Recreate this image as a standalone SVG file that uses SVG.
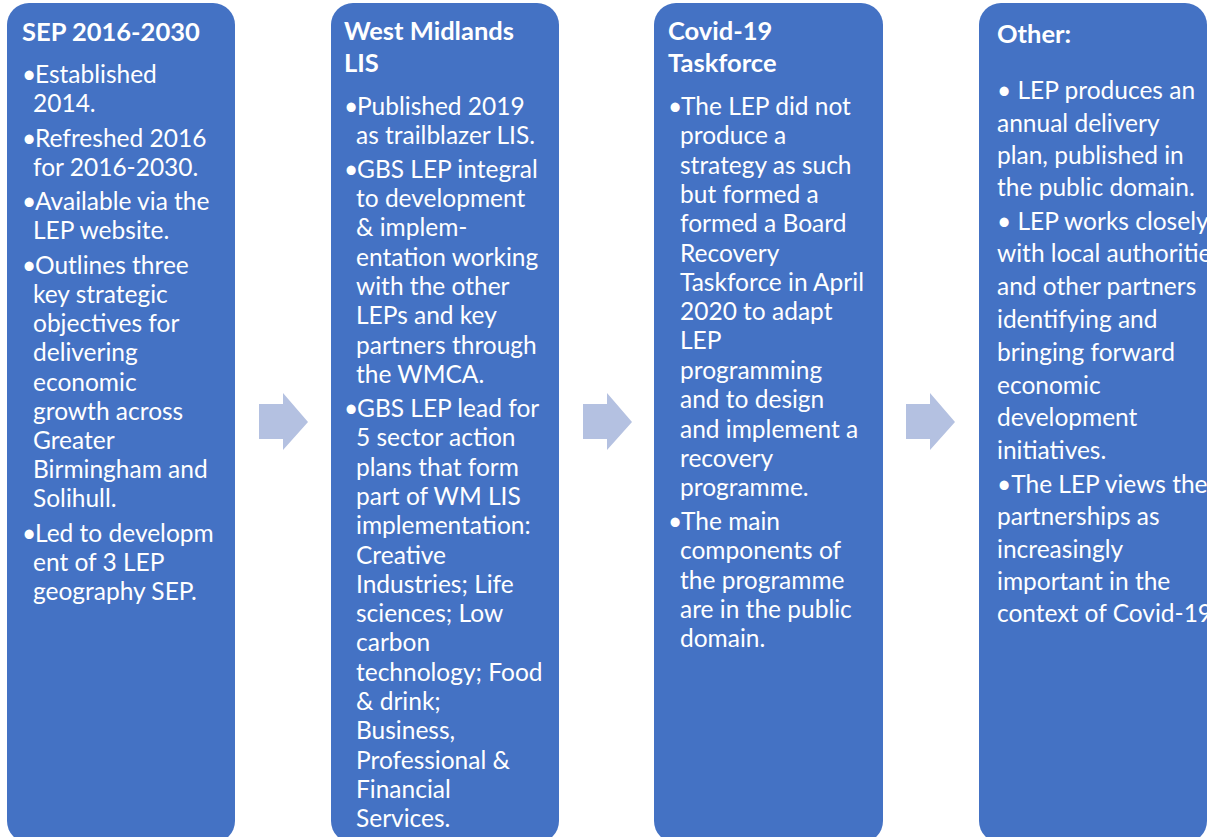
<svg xmlns="http://www.w3.org/2000/svg" width="1215" height="837" viewBox="0 0 1215 837">
<style>
.box{fill:#4472C4;}
.t{font-family:Lato,"Open Sans","Liberation Sans",sans-serif;fill:#FFFFFF;font-size:24.5px;}
.h{font-weight:bold;font-size:25.5px;}
.arr{fill:#B4C1E1;}
</style>
<defs>
<clipPath id="c4"><rect x="979" y="3" width="228" height="840" rx="22"/></clipPath>
</defs>
<rect width="1215" height="837" fill="#FFFFFF"/>
<g id="connectors">
<path class="arr" d="M259,404 H283 V393 L308,422 L283,450 V439 H259 Z"/>
<path class="arr" d="M583,404 H607 V393 L632,422 L607,450 V439 H583 Z"/>
<path class="arr" d="M906,404 H930 V393 L955,422 L930,450 V439 H906 Z"/>
</g>
<g id="node-sep">
<rect class="box" x="7" y="3" width="228" height="840" rx="22"/>
<text class="t h" x="22" y="41">SEP 2016-2030</text>
<text class="t">
<tspan x="22" y="83">•</tspan><tspan x="35">Established</tspan>
<tspan x="33" y="112">2014.</tspan>
<tspan x="22" y="147">•</tspan><tspan x="35">Refreshed 2016</tspan>
<tspan x="33" y="176">for 2016-2030.</tspan>
<tspan x="22" y="210">•</tspan><tspan x="35">Available via the</tspan>
<tspan x="33" y="239">LEP website.</tspan>
<tspan x="22" y="274">•</tspan><tspan x="35">Outlines three</tspan>
<tspan x="33" y="303">key strategic</tspan>
<tspan x="33" y="332">objectives for</tspan>
<tspan x="33" y="361">delivering</tspan>
<tspan x="33" y="391">economic</tspan>
<tspan x="33" y="420">growth across</tspan>
<tspan x="33" y="449">Greater</tspan>
<tspan x="33" y="478">Birmingham and</tspan>
<tspan x="33" y="507">Solihull.</tspan>
<tspan x="22" y="542">•</tspan><tspan x="35">Led to developm</tspan>
<tspan x="33" y="571">ent of 3 LEP</tspan>
<tspan x="33" y="600">geography SEP.</tspan>
</text>
</g>
<g id="node-lis">
<rect class="box" x="331" y="3" width="228" height="840" rx="22"/>
<text class="t h"><tspan x="344" y="40">West Midlands</tspan><tspan x="344" y="72">LIS</tspan></text>
<text class="t">
<tspan x="344" y="115">•</tspan><tspan x="357">Published 2019</tspan>
<tspan x="356" y="144">as trailblazer LIS.</tspan>
<tspan x="344" y="178">•</tspan><tspan x="357">GBS LEP integral</tspan>
<tspan x="356" y="207">to development</tspan>
<tspan x="356" y="236">&amp; implem-</tspan>
<tspan x="356" y="266">entation working</tspan>
<tspan x="356" y="295">with the other</tspan>
<tspan x="356" y="324">LEPs and key</tspan>
<tspan x="356" y="354">partners through</tspan>
<tspan x="356" y="383">the WMCA.</tspan>
<tspan x="344" y="417">•</tspan><tspan x="357">GBS LEP lead for</tspan>
<tspan x="356" y="446">5 sector action</tspan>
<tspan x="356" y="476">plans that form</tspan>
<tspan x="356" y="505">part of WM LIS</tspan>
<tspan x="356" y="534">implementation:</tspan>
<tspan x="356" y="564">Creative</tspan>
<tspan x="356" y="593">Industries; Life</tspan>
<tspan x="356" y="622">sciences; Low</tspan>
<tspan x="356" y="651">carbon</tspan>
<tspan x="356" y="681">technology; Food</tspan>
<tspan x="356" y="710">&amp; drink;</tspan>
<tspan x="356" y="739">Business,</tspan>
<tspan x="356" y="769">Professional &amp;</tspan>
<tspan x="356" y="798">Financial</tspan>
<tspan x="356" y="827">Services.</tspan>
</text>
</g>
<g id="node-covid">
<rect class="box" x="654" y="3" width="229" height="840" rx="22"/>
<text class="t h"><tspan x="668" y="40">Covid-19</tspan><tspan x="668" y="72">Taskforce</tspan></text>
<text class="t">
<tspan x="668" y="115">•</tspan><tspan x="681">The LEP did not</tspan>
<tspan x="680" y="144">produce a</tspan>
<tspan x="680" y="174">strategy as such</tspan>
<tspan x="680" y="203">but formed a</tspan>
<tspan x="680" y="232">formed a Board</tspan>
<tspan x="680" y="262">Recovery</tspan>
<tspan x="680" y="291">Taskforce in April</tspan>
<tspan x="680" y="320">2020 to adapt</tspan>
<tspan x="680" y="349">LEP</tspan>
<tspan x="680" y="379">programming</tspan>
<tspan x="680" y="408">and to design</tspan>
<tspan x="680" y="438">and implement a</tspan>
<tspan x="680" y="467">recovery</tspan>
<tspan x="680" y="496">programme.</tspan>
<tspan x="668" y="530">•</tspan><tspan x="681">The main</tspan>
<tspan x="680" y="559">components of</tspan>
<tspan x="680" y="589">the programme</tspan>
<tspan x="680" y="618">are in the public</tspan>
<tspan x="680" y="647">domain.</tspan>
</text>
</g>
<g id="node-other">
<rect class="box" x="979" y="3" width="228" height="840" rx="22"/>
<text class="t h" x="997" y="43">Other:</text>
<g clip-path="url(#c4)">
<text class="t">
<tspan x="997" y="99">• LEP produces an</tspan>
<tspan x="997" y="132">annual delivery</tspan>
<tspan x="997" y="164">plan, published in</tspan>
<tspan x="997" y="196">the public domain.</tspan>
<tspan x="997" y="230">• LEP works closely</tspan>
<tspan x="997" y="262">with local authoritie</tspan>
<tspan x="997" y="295">and other partners</tspan>
<tspan x="997" y="328">identifying and</tspan>
<tspan x="997" y="361">bringing forward</tspan>
<tspan x="997" y="394">economic</tspan>
<tspan x="997" y="426">development</tspan>
<tspan x="997" y="459">initiatives.</tspan>
<tspan x="997" y="493">•The LEP views thes</tspan>
<tspan x="997" y="525">partnerships as</tspan>
<tspan x="997" y="558">increasingly</tspan>
<tspan x="997" y="590">important in the</tspan>
<tspan x="997" y="622">context of Covid-19</tspan>
</text>
</g>
</g>
</svg>
